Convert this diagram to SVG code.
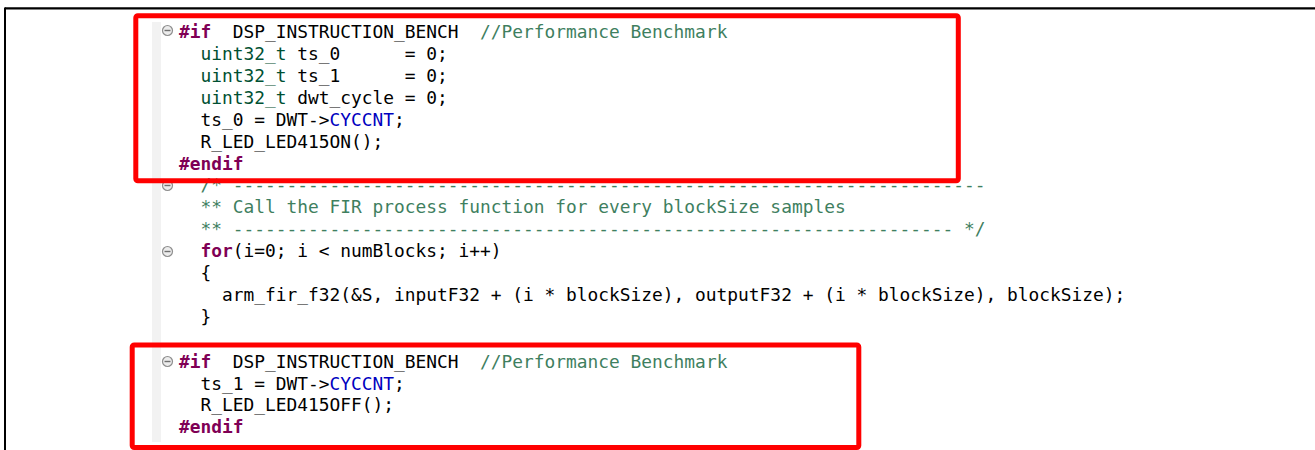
<svg xmlns="http://www.w3.org/2000/svg" width="1315" height="450" viewBox="0 0 1315 450" xml:space="preserve">
<defs>
<style>
text{font-family:"DejaVu Sans Mono","Liberation Mono",monospace;font-size:17.86px;fill:#000;white-space:pre}
.kw{fill:#7f0055;font-weight:bold}
.ty{fill:#005032}
.cm{fill:#3f7f5f}
.fd{fill:#0000c0}
.hl{fill:none;stroke:#ff0000;stroke-width:5}
.fold{fill:#ececec;stroke:#8e8e8e;stroke-width:1.2}
.foldm{stroke:#707070;stroke-width:1.4}
</style>
</defs>
<rect x="0" y="0" width="1315" height="450" fill="#ffffff"/>
<g id="frame">
<line x1="5" y1="8.3" x2="1315" y2="8.3" stroke="#000" stroke-width="2.2"/>
<line x1="5" y1="7.5" x2="5" y2="450" stroke="#000" stroke-width="2"/>
<rect x="152" y="22" width="9" height="420" fill="#f2f2f2"/>
</g>
<g id="folds">
<circle class="fold" cx="167.5" cy="30.5" r="5"/><line class="foldm" x1="164.5" y1="30.5" x2="170.5" y2="30.5"/>
<circle class="fold" cx="167.5" cy="185.5" r="5"/><line class="foldm" x1="164.5" y1="185.5" x2="170.5" y2="185.5"/>
<circle class="fold" cx="167.5" cy="251.5" r="5"/><line class="foldm" x1="164.5" y1="251.5" x2="170.5" y2="251.5"/>
<circle class="fold" cx="167.5" cy="361.5" r="5"/><line class="foldm" x1="164.5" y1="361.5" x2="170.5" y2="361.5"/>
</g>
<g id="code">
<text x="179" y="38"><tspan class="kw">#if</tspan>  DSP_INSTRUCTION_BENCH  <tspan class="cm">//Performance Benchmark</tspan></text>
<text x="179" y="60">  <tspan class="ty">uint32_t</tspan> ts_0      = 0;</text>
<text x="179" y="82">  <tspan class="ty">uint32_t</tspan> ts_1      = 0;</text>
<text x="179" y="104">  <tspan class="ty">uint32_t</tspan> dwt_cycle = 0;</text>
<text x="179" y="126">  ts_0 = DWT-&gt;<tspan class="fd">CYCCNT</tspan>;</text>
<text x="179" y="148">  R_LED_LED415ON();</text>
<text x="179" y="169.5"><tspan class="kw">#endif</tspan></text>
<text x="179" y="191.3" class="cm">  /* ----------------------------------------------------------------------</text>
<text x="179" y="213.2" class="cm">  ** Call the FIR process function for every blockSize samples</text>
<text x="179" y="235.1" class="cm">  ** ------------------------------------------------------------------- */</text>
<text x="179" y="257">  <tspan class="kw">for</tspan>(i=0; i &lt; numBlocks; i++)</text>
<text x="179" y="278.9">  {</text>
<text x="179" y="300.8">    arm_fir_f32(&amp;S, inputF32 + (i * blockSize), outputF32 + (i * blockSize), blockSize);</text>
<text x="179" y="322.7">  }</text>
<text x="179" y="367.5"><tspan class="kw">#if</tspan>  DSP_INSTRUCTION_BENCH  <tspan class="cm">//Performance Benchmark</tspan></text>
<text x="179" y="389.5">  ts_1 = DWT-&gt;<tspan class="fd">CYCCNT</tspan>;</text>
<text x="179" y="411.2">  R_LED_LED415OFF();</text>
<text x="179" y="433"><tspan class="kw">#endif</tspan></text>
</g>
<g id="highlights">
<rect id="box-start" class="hl" x="135.8" y="15.8" width="822.5" height="165" rx="2"/>
<rect id="box-end" class="hl" x="132.2" y="345" width="726.6" height="102.5" rx="2"/>
</g>
</svg>
